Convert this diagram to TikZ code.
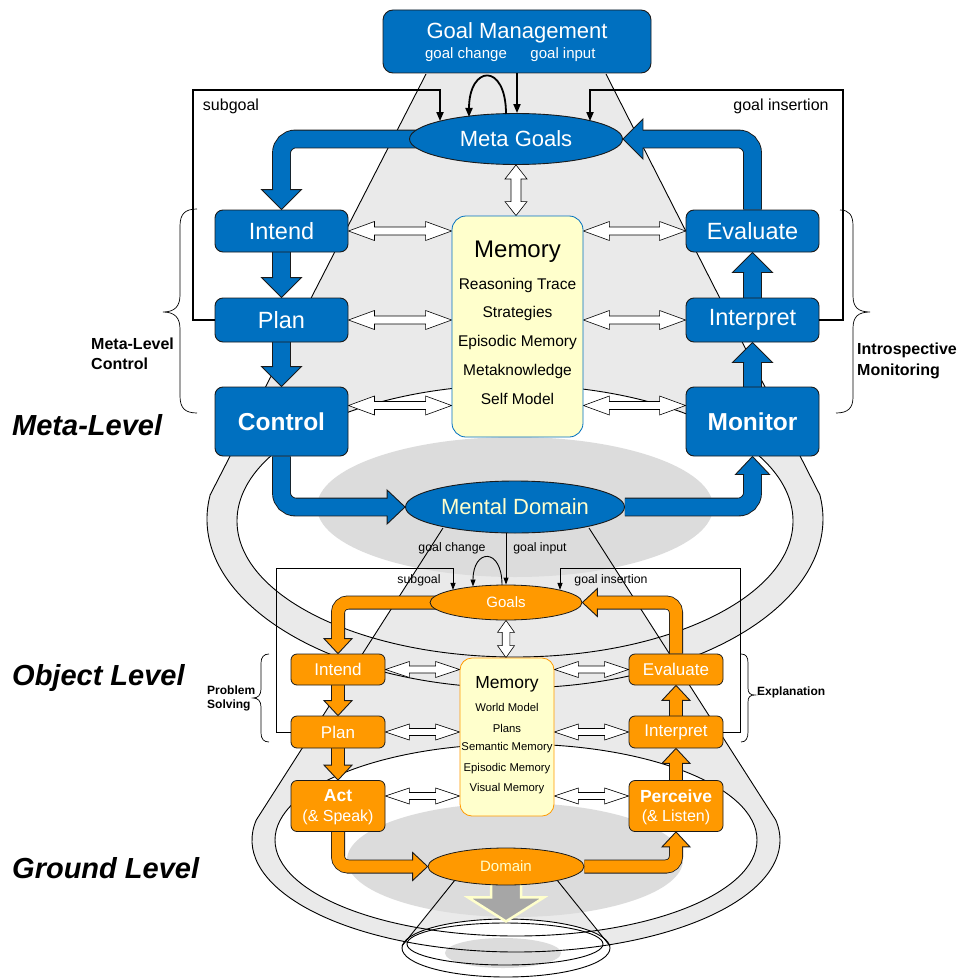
\documentclass[tikz,border=0pt]{standalone}
\usepackage{fontspec}
\setmainfont{Liberation Sans}
\usetikzlibrary{calc,arrows.meta,shapes.geometric}
\pgfdeclarelayer{back}
\pgfdeclarelayer{mid}
\pgfsetlayers{back,mid,main}
\definecolor{mblue}{HTML}{0070C0}
\definecolor{morange}{HTML}{FF9900}
\definecolor{mcream}{HTML}{FFFFCC}
\definecolor{conegray}{HTML}{EAEAEA}
\definecolor{dkgray}{HTML}{DCDCDC}
\definecolor{edgec}{HTML}{1A1A1A}
\definecolor{arrgray}{HTML}{A6A6A6}
\newcommand\fsz[1]{\fontsize{#1}{#1}\selectfont}
% block arrow head: tip, angle, colour, length, half width, half shaft
\newcommand\bhead[6]{%
 \begin{scope}[shift={(#1)},rotate=#2]
 \fill[#3] (0,0) -- (-#4,#5) -- (-#4,-#5) -- cycle;
 \draw[draw=edgec,line width=0.9pt,line join=miter] (-#4,#6) -- (-#4,#5) -- (0,0) -- (-#4,-#5) -- (-#4,-#6);
 \end{scope}}
% hollow double arrow: from, to, head length, head half width, shaft half width
\newcommand\hollowarr[5]{%
 \coordinate (hA) at (#1);
 \coordinate (hB) at (#2);
 \coordinate (hC) at ($(hA)!#3!(hB)$);
 \coordinate (hD) at ($(hB)!#3!(hA)$);
 \draw[hollowst] (hA) -- ($(hC)!#4!90:(hB)$) -- ($(hC)!#5!90:(hB)$) -- ($(hD)!#5!-90:(hA)$) -- ($(hD)!#4!-90:(hA)$) -- (hB) -- ($(hD)!#4!90:(hA)$) -- ($(hD)!#5!90:(hA)$) -- ($(hC)!#5!-90:(hB)$) -- ($(hC)!#4!-90:(hB)$) -- cycle;}
\tikzset{
 txt/.style={inner sep=0pt},
 wtxt/.style={inner sep=0pt,text=white},
 bbox/.style={draw=edgec,line width=0.9pt,fill=mblue,rounded corners=8pt,text=white,minimum width=133pt,minimum height=43pt,inner sep=0pt,font=\fsz{23.5}},
 bbig/.style={bbox,minimum height=69pt,font=\bfseries\fsz{24.5}},
 obox/.style={draw=edgec,line width=0.8pt,fill=morange,rounded corners=6pt,text=white,minimum width=94pt,minimum height=31pt,inner sep=0pt,font=\fsz{17}},
 bell/.style={ellipse,draw=edgec,line width=0.9pt,fill=mblue,inner sep=0pt,font=\fsz{22}},
 oell/.style={ellipse,draw=edgec,line width=0.8pt,fill=morange,inner sep=0pt,font=\fsz{15}},
 hollowst/.style={draw=black,line width=0.6pt,fill=white,line join=miter},
 bsh/.style={draw=edgec,line width=0.9pt,double=mblue,double distance=17pt,rounded corners=14pt,shorten >=19pt},
 bshs/.style={bsh,shorten >=17pt},
 osh/.style={draw=edgec,line width=0.8pt,double=morange,double distance=12.4pt,rounded corners=10pt,shorten >=14pt},
 mline/.style={draw=black,line width=1.8pt,-{Triangle[length=9pt,width=7pt]}},
 oline/.style={draw=black,line width=0.9pt,-{Triangle[length=7pt,width=5pt]}},
 brace/.style={draw=black,line width=0.7pt},
 silh/.style={draw=black,line width=0.9pt},
}
\begin{document}
\begin{tikzpicture}[x=1pt,y=-1pt]
\useasboundingbox (0,0) rectangle (966,979);

% ---------- nodes ----------
\node[bbox,minimum width=268pt,minimum height=63pt,rounded corners=10pt] (gm) at (517,41.5) {};
\node[wtxt,font=\fsz{22}] (gmT) at (517,33) {Goal Management};
\node[wtxt,font=\fsz{15}] (gmC) at (466,55) {goal change};
\node[wtxt,font=\fsz{15}] (gmI) at (563,55) {goal input};

\node[bell,minimum width=213pt,minimum height=51pt,text=white] (mg) at (516,139) {Meta Goals};
\node[bell,minimum width=219pt,minimum height=52pt,text=mcream] (md) at (515,507) {Mental Domain};

\node[bbox,minimum height=42pt] (intend) at (281.5,231) {Intend};
\node[bbox,minimum height=44pt] (plan) at (281.5,320) {Plan};
\node[bbig] (control) at (281.5,421.5) {Control};
\node[bbox,minimum height=42pt] (evaluate) at (752.5,231) {Evaluate};
\node[bbox,minimum height=44pt] (interp) at (752.5,320) {Interpret};
\node[bbig] (monitor) at (752.5,421.5) {Monitor};

\node[draw=mblue,line width=0.8pt,fill=mcream,rounded corners=14pt,minimum width=131pt,minimum height=221pt,inner sep=0pt] (mem) at (517.5,326.5) {};
\node[txt,font=\fsz{24}] (memT) at (517.5,252) {Memory};
\node[txt,font=\fsz{15.5}] (mem1) at (517.5,285) {Reasoning Trace};
\node[txt,font=\fsz{15.5}] (mem2) at (517.5,313) {Strategies};
\node[txt,font=\fsz{15.5}] (mem3) at (517.5,342) {Episodic Memory};
\node[txt,font=\fsz{15.5}] (mem4) at (517.5,371) {Metaknowledge};
\node[txt,font=\fsz{15.5}] (mem5) at (517.5,399) {Self Model};

\node[oell,minimum width=152pt,minimum height=35pt,text=white] (goals) at (506,602.5) {Goals};
\node[oell,minimum width=156pt,minimum height=37pt,text=mcream] (domain) at (506,866.5) {Domain};

\node[obox] (intendo) at (338,669.5) {Intend};
\node[obox,minimum height=32pt] (plano) at (338,732) {Plan};
\node[obox,minimum height=51pt] (act) at (338,806) {};
\node[wtxt,font=\bfseries\fsz{17.5}] (actT) at (338,796) {Act};
\node[wtxt,font=\fsz{16}] (actS) at (338,817) {(\& Speak)};
\node[obox] (evalo) at (676,669.5) {Evaluate};
\node[obox,minimum height=32pt] (interpo) at (676,732) {Interpret};
\node[obox,minimum height=51pt] (perceive) at (676,806) {};
\node[wtxt,font=\bfseries\fsz{17.5}] (perT) at (676,796) {Perceive};
\node[wtxt,font=\fsz{16}] (perS) at (676,817) {(\& Listen)};

\node[draw=morange,line width=0.8pt,fill=mcream,rounded corners=12pt,minimum width=94pt,minimum height=158pt,inner sep=0pt] (memo) at (507,737) {};
\node[txt,font=\fsz{17.5}] (memoT) at (507,684) {Memory};
\node[txt,font=\fsz{11.3}] (memo1) at (507,707) {World Model};
\node[txt,font=\fsz{11.3}] (memo2) at (507,728) {Plans};
\node[txt,font=\fsz{11.3}] (memo3) at (507,748) {Semantic Memory};
\node[txt,font=\fsz{11.3}] (memo4) at (507,769) {Episodic Memory};
\node[txt,font=\fsz{11.3}] (memo5) at (507,789) {Visual Memory};

% level labels
\node[txt,anchor=west,font=\bfseries\itshape\fsz{29}] (lm) at (12,425) {Meta-Level};
\node[txt,anchor=west,font=\bfseries\itshape\fsz{29}] (lo) at (12,678) {Object Level};
\node[txt,anchor=west,font=\bfseries\itshape\fsz{29}] (lg) at (12,868) {Ground Level};

\node[txt,anchor=west,align=left,font=\bfseries\fontsize{16}{20.5}\selectfont] (lmc) at (91,354) {Meta-Level\\Control};
\node[txt,anchor=west,align=left,font=\bfseries\fontsize{16}{20.5}\selectfont] (lim) at (857,361) {Introspective\\Monitoring};
\node[txt,anchor=west,align=left,font=\bfseries\fontsize{12}{14}\selectfont] (lps) at (207,698) {Problem\\Solving};
\node[txt,anchor=west,font=\bfseries\fsz{12}] (lex) at (757,692) {Explanation};

% small labels
\node[txt,font=\fsz{16}] (lsg) at (231,106) {subgoal};
\node[txt,font=\fsz{16}] (lgi) at (781,106) {goal insertion};
\node[txt,font=\fsz{12.3}] (olgc) at (452,548) {goal change};
\node[txt,font=\fsz{12.3}] (olgi) at (540,548) {goal input};
\node[txt,font=\fsz{12.3}] (olsg) at (419,580) {subgoal};
\node[txt,font=\fsz{12.3}] (olgin) at (611,580) {goal insertion};

% ---------- background ----------
\begin{pgfonlayer}{back}
\coordinate (mc) at (515,519);
\coordinate (mic) at (515,521);
\coordinate (oc) at (516,840);
\coordinate (gc) at (506,948);
\fill[conegray] (426,74) -- ($(mc)+(188.2:308 and 169)$) arc[start angle=188.2,end angle=-8.2,x radius=308,y radius=169] -- (606,74) -- cycle;
\fill[white] (mic) ellipse [x radius=278,y radius=136];
\fill[conegray] (443,528) -- ($(oc)+(190.3:264 and 112)$) arc[start angle=190.3,end angle=-10.3,x radius=264,y radius=112] -- (589,528) -- cycle;
\fill[dkgray] (515,507) ellipse [x radius=198,y radius=70];
\fill[white] (oc) ellipse [x radius=241,y radius=96];
\fill[conegray] (455,880) -- (402,948) -- (610,948) -- (557,880) -- cycle;
\fill[dkgray] (515,860) ellipse [x radius=168,y radius=57];
\fill[white] (gc) ellipse [x radius=104,y radius=29];
\fill[dkgray] (503,953) ellipse [x radius=58,y radius=15];
% outlines
\draw[silh] (426,74) -- ($(mc)+(188.2:308 and 169)$) arc[start angle=188.2,end angle=-8.2,x radius=308,y radius=169] -- (606,74);
\draw[silh] (mic) ellipse [x radius=278,y radius=136];
\draw[silh] (443,528) -- ($(oc)+(190.3:264 and 112)$) arc[start angle=190.3,end angle=-10.3,x radius=264,y radius=112] -- (589,528);
\draw[silh] (oc) ellipse [x radius=241,y radius=96];
\draw[silh] (455,880) -- (402,946);
\draw[silh] (557,880) -- (610,946);
\draw[silh] (gc) ellipse [x radius=104,y radius=29];
\draw[silh] (505,944) ellipse [x radius=98,y radius=21];
\end{pgfonlayer}

% ---------- block arrows ----------
\begin{pgfonlayer}{mid}
\draw[bsh] (mg.center) -| (intend.north);
\bhead{intend.north}{-90}{mblue}{20}{20}{8.5}
\draw[bsh] (evaluate.north) |- (mg.east);
\bhead{mg.east}{180}{mblue}{20}{20}{8.5}
\draw[bsh] (intend.south) -- (plan.north);
\bhead{plan.north}{-90}{mblue}{20}{20}{8.5}
\draw[bsh] (plan.south) -- (control.north);
\bhead{control.north}{-90}{mblue}{20}{20}{8.5}
\draw[bsh] (monitor.north) -- (interp.south);
\bhead{interp.south}{90}{mblue}{20}{20}{8.5}
\draw[bsh] (interp.north) -- (evaluate.south);
\bhead{evaluate.south}{90}{mblue}{20}{20}{8.5}
\draw[bshs] (control.south) |- (md.west);
\bhead{md.west}{0}{mblue}{18}{17}{8.5}
\draw[bshs] (md.east) -| (monitor.south);
\bhead{monitor.south}{90}{mblue}{18}{17}{8.5}

\draw[osh] (goals.center) -| (intendo.north);
\bhead{intendo.north}{-90}{morange}{15}{14}{6.2}
\draw[osh] (evalo.north) |- (goals.east);
\bhead{goals.east}{180}{morange}{15}{14}{6.2}
\draw[osh] (intendo.south) -- (plano.north);
\bhead{plano.north}{-90}{morange}{15}{14}{6.2}
\draw[osh] (plano.south) -- (act.north);
\bhead{act.north}{-90}{morange}{15}{14}{6.2}
\draw[osh] (perceive.north) -- (interpo.south);
\bhead{interpo.south}{90}{morange}{15}{14}{6.2}
\draw[osh] (interpo.north) -- (evalo.south);
\bhead{evalo.south}{90}{morange}{15}{14}{6.2}
\draw[osh] (act.south) |- (domain.west);
\bhead{domain.west}{0}{morange}{15}{14}{6.2}
\draw[osh] (domain.east) -| (perceive.south);
\bhead{perceive.south}{90}{morange}{15}{14}{6.2}

% ground arrow
\draw[draw=mcream,line width=2.5pt,fill=arrgray,line join=miter] ($(domain.south)+(-15,-4)$) -- ($(domain.south)+(-15,12)$) -- ($(domain.south)+(-38,12)$) -- ($(domain.south)+(0,36)$) -- ($(domain.south)+(38,12)$) -- ($(domain.south)+(15,12)$) -- ($(domain.south)+(15,-4)$);

% hollow arrows meta
\coordinate (crow) at ($(control.east)+(0,-16)$);
\coordinate (mrow) at ($(monitor.west)+(0,-16)$);
\hollowarr{intend.east}{intend.east -| mem.west}{26pt}{9.5pt}{4pt}
\hollowarr{plan.east}{plan.east -| mem.west}{26pt}{9.5pt}{4pt}
\hollowarr{crow}{crow -| mem.west}{26pt}{9.5pt}{4pt}
\hollowarr{evaluate.west -| mem.east}{evaluate.west}{26pt}{9.5pt}{4pt}
\hollowarr{interp.west -| mem.east}{interp.west}{26pt}{9.5pt}{4pt}
\hollowarr{mrow -| mem.east}{mrow}{26pt}{9.5pt}{4pt}
\hollowarr{mg.south}{mg.south |- mem.north}{14pt}{11pt}{5pt}
% hollow arrows object
\coordinate (arow) at ($(act.east)+(0,-10)$);
\coordinate (prow) at ($(perceive.west)+(0,-10)$);
\hollowarr{intendo.east}{intendo.east -| memo.west}{24pt}{8pt}{3.5pt}
\hollowarr{plano.east}{plano.east -| memo.west}{24pt}{8pt}{3.5pt}
\hollowarr{arow}{arow -| memo.west}{24pt}{8pt}{3.5pt}
\hollowarr{evalo.west -| memo.east}{evalo.west}{24pt}{8pt}{3.5pt}
\hollowarr{interpo.west -| memo.east}{interpo.west}{24pt}{8pt}{3.5pt}
\hollowarr{prow -| memo.east}{prow}{24pt}{8pt}{3.5pt}
\hollowarr{goals.south}{goals.south |- memo.north}{12pt}{8.5pt}{3.8pt}
\end{pgfonlayer}

% ---------- thin connectors ----------
\coordinate (sgL) at (193,90);
\coordinate (sgc) at (440,90);
\coordinate (giR) at (843,90);
\coordinate (gic) at (590,90);
\draw[mline] (plan.west) -| (sgL) -- (sgc) -- (sgc |- mg.167);
\draw[mline] (interp.east) -| (giR) -- (gic) -- (gic |- mg.13);
\draw[mline] (gm.south) -- (gm.south |- mg.north);
\draw[mline] ($(mg.center)+(-10,-25)$) .. controls +(0,-52) and +(0,-52) .. ($(mg.center)+(-47,-22)$);

\coordinate (osgL) at (276,568);
\coordinate (osgc) at (453,568);
\coordinate (ogiR) at (740,568);
\coordinate (ogic) at (560,568);
\draw[oline] (plano.west) -| (osgL) -- (osgc) -- (osgc |- goals.167);
\draw[oline] (interpo.east) -| (ogiR) -- (ogic) -- (ogic |- goals.13);
\draw[oline] (goals.north |- md.south) -- (goals.north);
\draw[oline] ($(goals.center)+(-4,-17.5)$) .. controls +(0,-38) and +(0,-38) .. ($(goals.center)+(-33,-16)$);

% ---------- braces ----------
\draw[brace] (197,209) .. controls (185,209) and (180,214) .. (180,226) -- (180,295) .. controls (180,306) and (175,312) .. (163,312) .. controls (175,312) and (180,318) .. (180,329) -- (180,396) .. controls (180,408) and (185,413) .. (197,413);
\draw[brace] (840,210) .. controls (849,210) and (853,215) .. (853,226) -- (853,296) .. controls (853,307) and (858,312) .. (870,312) .. controls (858,312) and (853,317) .. (853,328) -- (853,397) .. controls (853,408) and (848,413) .. (836,413);
\draw[brace] (269,654) .. controls (264,654) and (261,657) .. (261,663) -- (261,689) .. controls (261,695) and (258,698) .. (253,698) .. controls (258,698) and (261,701) .. (261,707) -- (261,733) .. controls (261,739) and (264,742) .. (269,742);
\draw[brace] (741,654) .. controls (746,654) and (748,657) .. (748,663) -- (748,688) .. controls (748,693) and (750,695) .. (755,695) .. controls (750,695) and (748,697) .. (748,702) -- (748,732) .. controls (748,738) and (746,742) .. (741,742);
\end{tikzpicture}
\end{document}
